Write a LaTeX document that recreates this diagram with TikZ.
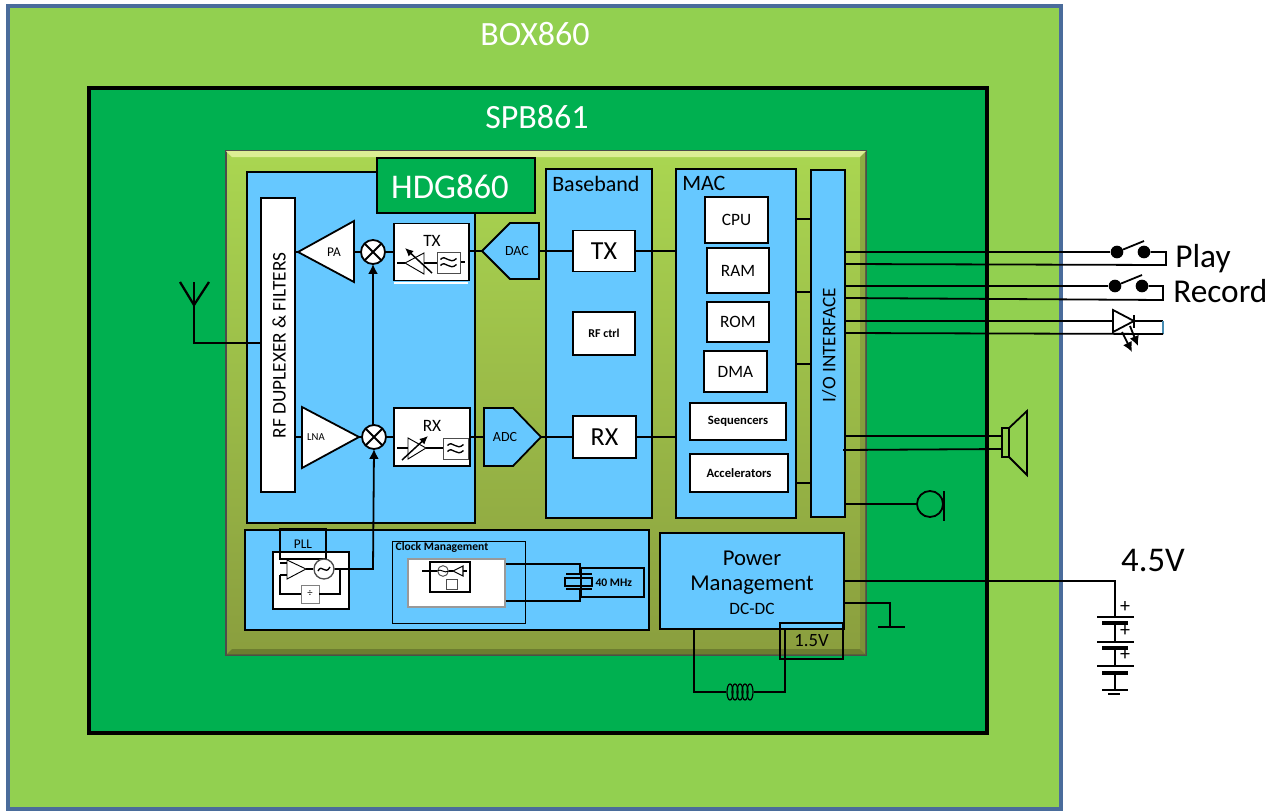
\documentclass[tikz,border=0pt]{standalone}
\usepackage{fontspec}
\setmainfont{Carlito}
\usetikzlibrary{arrows.meta,positioning,calc}
\definecolor{boxgreen}{HTML}{92D050}
\definecolor{boardgreen}{HTML}{00B050}
\definecolor{boxedge}{HTML}{4A6C9B}
\definecolor{chiptop}{HTML}{AAD651}
\definecolor{chipbot}{HTML}{8A9E3E}
\definecolor{chiplight}{HTML}{DCEE94}
\definecolor{blockblue}{HTML}{66C8FF}
\tikzset{
  wire/.style={line width=1.35pt},
  thinwire/.style={line width=0.85pt},
  lbl/.style={font=\fontsize{#1}{#1}\selectfont, inner sep=0pt},
  dim/.style 2 args={minimum width=#1*0.75pt, minimum height=#2*0.75pt},
  block/.style={draw=black, line width=1.35pt, fill=blockblue, inner sep=0pt, outer sep=0pt},
  whitebox/.style={draw=black, line width=1.35pt, fill=white, align=center, inner sep=0pt, outer sep=0pt},
  dot/.style={circle, fill=black, minimum size=9.5pt, inner sep=0pt},
  mixer/.style={circle, draw=black, line width=1.35pt, fill=white, minimum size=18pt, inner sep=0pt, outer sep=0pt},
  tip/.style={-{Latex[length=2.6mm,width=2.6mm]}, line width=1.35pt},
  filterwave/.pic={
    \draw[line width=1pt] (-8,-3) .. controls (-3,-9) and (1,3) .. (8,-4);
    \draw[line width=1pt] (-8,3) .. controls (-3,-3) and (1,9) .. (8,2);
  }
}
\begin{document}
\begin{tikzpicture}[x=0.75pt,y=-0.75pt]
\useasboundingbox (0,0) rectangle (1279,811);
% nested boards
\node[draw=boxedge, line width=2.4pt, fill=boxgreen, dim={1053}{803}, inner sep=0pt] (box) at (534.5,407.5) {};
\node[lbl=25.5, text=white] (boxname) at (535,34) {BOX860};
\node[draw=black, line width=2.5pt, fill=boardgreen, dim={898}{645}, inner sep=0pt] (spb) at (538,410.5) {};
\node[lbl=25.5, text=white] (spbname) at (537,117) {SPB861};
% chip
\node[draw=black!70, line width=0.8pt, top color=chiptop, bottom color=chipbot, dim={640}{504}, inner sep=0pt] (chip) at (546,403) {};
\fill[chiplight] (226,151) -- (866,151) -- (860,157) -- (232,157) -- cycle;
\fill[chipbot!80!black, opacity=0.45] (866,151) -- (866,655) -- (860,649) -- (860,157) -- cycle;
\fill[chipbot!70!black, opacity=0.7] (226,655) -- (866,655) -- (860,649) -- (232,649) -- cycle;
% blocks
\node[block, dim={228}{351}] (rf) at (361,347.5) {};
\node[block, fill=boardgreen, dim={158}{55}] (hdg) at (456,185.5) {};
\node[lbl=26, text=white] (hdgname) at (450,187) {HDG860};
\node[whitebox, dim={34}{294}] (dup) at (278,345) {};
\node[lbl=14.5, rotate=90] (dupname) at (279,345.5) {RF DUPLEXER \& FILTERS};
\node[block, dim={106}{349}] (bb) at (599,343.5) {};
\node[lbl=16.5, right] (bbname) at (552,184) {Baseband};
\node[block, dim={120}{349}] (mac) at (736,343.5) {};
\node[lbl=16.5, right] (macname) at (682,183) {MAC};
\node[block, dim={34}{347}] (io) at (828,343.5) {};
\node[lbl=14.4, rotate=90] (ioname) at (829,345) {I/O INTERFACE};
\node[whitebox, dim={62}{41}, lbl=19.5] (bbtx) at (604,251) {TX};
\node[whitebox, dim={62}{43}, lbl=9] (rfctrl) at (604,333.5) {\textbf{RF ctrl}};
\node[whitebox, dim={63}{42}, lbl=19.5] (bbrx) at (604.5,437) {RX};
\node[whitebox, dim={63}{46}, lbl=13] (cpu) at (736.5,220) {CPU};
\node[whitebox, dim={62}{45}, lbl=13] (ram) at (738,270.5) {RAM};
\node[whitebox, dim={62}{40}, lbl=13] (rom) at (738,322) {ROM};
\node[whitebox, dim={63}{41}, lbl=13] (dma) at (735.5,371.5) {DMA};
\node[whitebox, dim={96}{37}, lbl=9.5] (seq) at (738,421.5) {\textbf{Sequencers}};
\node[whitebox, dim={98}{38}, lbl=9.5] (acc) at (739,473) {\textbf{Accelerators}};
\node[block, dim={404}{100}] (lower) at (447,580) {};
\node[block, dim={184}{96}] (power) at (752,581) {};
\node[lbl=17] (pwrname) at (752,558) {Power};
\node[lbl=17] (pwrname2) at (752,585) {Management};
\node[lbl=13] (pwrname3) at (752,609) {DC-DC};
\node[draw=black, line width=1.35pt, dim={63}{36}, lbl=14, outer sep=0pt] (vcore) at (811.5,641) {1.5V};
% transmit path
\coordinate (patip) at (298,252);
\draw[line width=1.35pt, fill=white] (patip) -- (354,221) -- (354,282) -- cycle;
\node[lbl=10] (paname) at (334,252) {PA};
\node[mixer] (mixtx) at (373,252) {};
\draw[line width=1.35pt] (mixtx.north west) -- (mixtx.south east) (mixtx.north east) -- (mixtx.south west);
\draw[white, line width=1pt] (394,283) -- (468,283);
\node[whitebox, dim={75}{57}] (txbox) at (431.5,252) {};
\node[lbl=13] (txname) at (432,241) {TX};
\draw[line width=0.7pt] (405,263) -- (424,253) -- (424,274) -- cycle;
\draw[thinwire] (397,263) -- (405,263) (424,263) -- (437,263) (460,262) -- (465,262);
\draw[-{Latex[length=2.2mm,width=2mm]}, line width=1.1pt] (432,273) -- (405,248);
\node[draw=black!70, line width=0.7pt, fill=white, dim={23}{21}, inner sep=0pt] (txfilt) at (448.5,262.5) {};
\pic at (txfilt) {filterwave};
\coordinate (dactip) at (482,251);
\draw[line width=1.35pt, fill=blockblue] (dactip) -- (510,223) -- (539,223) -- (539,279) -- (510,279) -- cycle;
\node[lbl=10.5] (dacname) at (517,251) {DAC};
% receive path
\coordinate (lnatip) at (359,437);
\coordinate (lnaleft) at (302,437);
\draw[line width=1.35pt, fill=white] (lnatip) -- (302,407) -- (302,468) -- cycle;
\node[lbl=8] (lnaname) at (316,437) {LNA};
\node[mixer] (mixrx) at (374,437) {};
\draw[line width=1.35pt] (mixrx.north west) -- (mixrx.south east) (mixrx.north east) -- (mixrx.south west);
\node[whitebox, dim={76}{58}] (rxbox) at (432,437) {};
\node[lbl=13] (rxname) at (432,426) {RX};
\draw[line width=0.7pt] (408,438) -- (426,448) -- (408,459) -- cycle;
\draw[thinwire] (397,448) -- (408,448) (426,448) -- (443,448);
\draw[-{Latex[length=2.2mm,width=2mm]}, line width=1.1pt] (402,460) -- (428,436);
\node[draw=black!70, line width=0.7pt, fill=white, dim={25}{21}, inner sep=0pt] (rxfilt) at (455.5,448.5) {};
\pic at (rxfilt) {filterwave};
\coordinate (adctip) at (541,437);
\draw[line width=1.35pt, fill=blockblue] (adctip) -- (513,466) -- (484,466) -- (484,408) -- (513,408) -- cycle;
\node[lbl=10.5] (adcname) at (505,437) {ADC};
% antenna and chip wires
\coordinate (ant) at (194,282);
\coordinate (antfoot) at (194,343);
\draw[line width=1.9pt] (dup.west |- antfoot) -- (antfoot) -- (ant);
\draw[line width=1.7pt] (180,282) -- (194,305) -- (209,282);
\draw[thinwire] (patip -| dup.east) -- (patip);
\draw[wire] (354,252) -- (mixtx.west);
\draw[wire] (mixtx.east) -- (txbox.west |- mixtx);
\draw[wire] (txbox.east |- dactip) -- (dactip);
\draw[wire] (539,251) -- (bbtx.west);
\draw[wire] (bbtx.east) -- (bbtx.east -| mac.west);
\draw[thinwire] (lnaleft -| dup.east) -- (lnaleft);
\draw[wire] (lnatip) -- (mixrx.west);
\draw[wire] (mixrx.east) -- (rxbox.west);
\draw[wire] (rxbox.east) -- (484,437);
\draw[wire] (adctip) -- (bbrx.west);
\draw[wire] (bbrx.east) -- (bbrx.east -| mac.west);
\draw[tip] (mixrx.north -| mixtx) -- (mixtx.south);
\foreach \y in {219,292,364,483} \draw[thinwire] (mac.east |- {(0,\y)}) -- (io.west |- {(0,\y)});
% pll
\node[whitebox, dim={76}{57}] (pllbox) at (311,580.5) {};
\node[draw=black, line width=1.35pt, dim={46}{30}, lbl=10, outer sep=0pt] (pll) at (303,544) {PLL};
\draw[line width=0.7pt] (287,560) -- (287,579) -- (306,569) -- cycle;
\node[circle, draw=black!70, line width=1pt, fill=white, minimum size=15pt, inner sep=0pt] (vco) at (324,569) {};
\draw[line width=1pt] (318,571) .. controls (322,563) and (325,576) .. (330,567);
\node[draw=black!50, line width=0.7pt, fill=white, dim={18}{18}, lbl=8] (divider) at (310,594) {÷};
\draw[wire] (280,563) -- (287,563) (280,575) -- (287,575) (306,569) -- (vco.west);
\draw[wire] (280,575) |- (divider.west);
\draw[wire] (divider.east) -| (340,569) -- (vco.east);
\draw[tip] (vco.east) -- (373,569) -- (mixrx.south);
% clock management
\node[draw=black, line width=0.6pt, dim={133}{82}, inner sep=0pt] (clock) at (458.5,582) {};
\node[lbl=8.7] (clockname) at (442,547) {\textbf{Clock Management}};
\node[draw=black!40, line width=0.8pt, fill=white, dim={97}{48}, inner sep=0pt] (clockin) at (456.5,583) {};
\node[draw=black, line width=1.4pt, dim={40}{30}, inner sep=0pt] (osc) at (450,577) {};
\node[circle, draw=black!70, line width=0.7pt, fill=white, minimum size=8pt, inner sep=0pt] (osccirc) at (443,571) {};
\draw[line width=0.7pt] (osccirc.west) .. controls (441,568) and (444,574) .. (osccirc.east);
\draw[line width=0.8pt, fill=white] (453,571) -- (463,566) -- (463,576) -- cycle;
\node[draw=black!70, line width=0.7pt, fill=white, dim={11}{10}, inner sep=0pt] (oscdiv) at (451.5,584) {};
\draw[thinwire] (422,571) -- (osccirc.west) (osccirc.east) -- (453,571) (463,571) -- (467,571);
% crystal
\node[draw=black, line width=1.35pt, dim={63}{29}, lbl=8.7, outer sep=0pt] (xtal) at (612.5,582.5) {\textbf{\ 40 MHz}};
\coordinate (xtaltop) at (580,574);
\coordinate (xtalbot) at (580,589);
\draw[wire] (clockin.east |- {(0,564)}) -| (xtaltop);
\draw[wire] (clockin.east |- {(0,601)}) -| (xtalbot);
\draw[wire] (566,574) -- (592,574) (566,589) -- (592,589);
\draw[thinwire] (565,578) rectangle (592,586);
% power
\coordinate (supply) at (1115,581);
\draw[wire] (power.east) -- (supply) -- (1115,617);
\node[lbl=26] (volt) at (1153,560) {4.5V};
\coordinate (gndtop) at (890,627);
\draw[wire] (power.east |- {(0,603)}) -| (gndtop);
\draw[wire] (878,627) -- (905,627);
% inductor
\coordinate (coilL) at (726,692);
\coordinate (coilR) at (754,692);
\draw[wire] (power.south -| 694,0) |- (coilL);
\draw[wire] (power.south -| 785,0) |- (coilR);
\foreach \x in {730,735,740,745,750} \draw[line width=0.9pt] (\x,692) ellipse [x radius=3, y radius=8];
% battery
\draw[wire] (1097,617) -- (1134,617) (1097,642) -- (1134,642) (1097,666) -- (1134,666);
\draw[line width=3.2pt] (1102,623) -- (1128,623) (1102,648) -- (1128,648) (1102,673) -- (1128,673);
\draw[wire] (1115,623) -- (1115,642) (1115,648) -- (1115,666) (1115,673) -- (1115,690);
\draw[wire] (1102,690) -- (1128,690);
\draw[line width=1.6pt] (1108,694) -- (1120,694);
\node[lbl=15] (plusa) at (1125,607) {+};
\node[lbl=15] (plusb) at (1125,631) {+};
\node[lbl=15] (plusc) at (1125,655) {+};
% switches
\node[dot] (playL) at (1117,252) {};
\node[dot] (playR) at (1144,252) {};
\node[dot] (recL) at (1115,286) {};
\node[dot] (recR) at (1142,286) {};
\draw[wire] (playL) -- (1144,241);
\draw[wire] (recL) -- (1142,275);
\draw[wire] (playL) -- (playL -| io.east);
\draw[wire] (playR) -- (1166,252) -- (1166,265) -- (845,264);
\draw[wire] (recL) -- (recL -| io.east);
\draw[wire] (recR) -- (1163,286) -- (1163,300) -- (845,298);
\node[lbl=25, right] (play) at (1175,259) {Play};
\node[lbl=25, right] (rec) at (1173,291) {Record};
% led
\coordinate (ledL) at (1113,321);
\coordinate (ledR) at (1134,321);
\draw[wire] (ledL) -- (ledL -| io.east);
\draw[wire] (ledR) -- (1163,321);
\draw[line width=0.9pt, blockblue!70!black] (1163,321) -- (1163,334);
\draw[wire] (1163,334) -- (845,333);
\draw[wire, fill=white] (ledL |- {(0,310)}) -- (ledL |- {(0,332)}) -- (ledR) -- cycle;
\draw[wire] (1134,315) -- (1134,328);
\draw[tip] (1122,332) -- (1132,352);
\draw[tip] (1130,326) -- (1138,346);
% speaker
\node[draw=black, line width=1.35pt, dim={7}{29}, inner sep=0pt, outer sep=0pt] (spk) at (1005.5,442.5) {};
\draw[wire] (spk.north east) -- (1027,411) -- (1027,475) -- (spk.south east);
\draw[wire] (spk.west |- {(0,436)}) -- (io.east |- {(0,436)});
\draw[wire] (spk.west |- {(0,449)}) -- (843,450);
% microphone
\node[circle, draw=black, line width=1.35pt, minimum size=19.5pt, inner sep=0pt, outer sep=0pt] (mic) at (930,504) {};
\draw[wire] (mic.west) -- (mic.west -| io.east);
\draw[wire] (944,491) -- (944,521);
\end{tikzpicture}
\end{document}
